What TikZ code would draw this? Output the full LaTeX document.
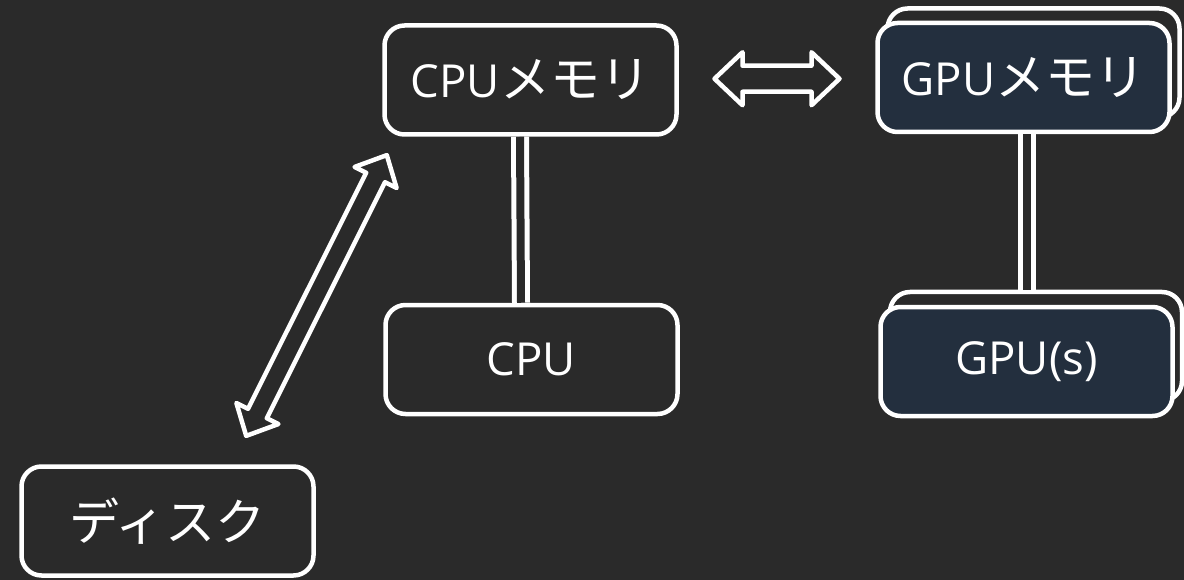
\documentclass[tikz,border=0pt]{standalone}
\usepackage{fontspec}
\setmainfont{Open Sans}
\newfontfamily\jp[Scale=1.1]{Noto Sans CJK JP}
\usetikzlibrary{calc}
\definecolor{bgcol}{HTML}{2A2A2A}
\definecolor{navy}{HTML}{232F3E}
\tikzset{
  box/.style={draw=white, line width=4.5pt, rounded corners=20pt, fill=bgcol,
    minimum width=292pt, minimum height=109pt, inner sep=0pt,
    text=white, font=\fontsize{45.5}{54}\selectfont},
  gpubox/.style={box, fill=navy},
  backbox/.style={box, fill=bgcol},
  link/.style={draw=white, line width=5pt, double=bgcol, double distance=8pt},
  fatarrow/.style={draw=white, fill=bgcol, line width=4.5pt, line join=round},
}
% #1 half length, #2 head length, #3 head half width, #4 shaft half width
\newcommand{\fatarrowpath}[4]{%
  (-#1,0) -- (-#1+#2,-#3) -- (-#1+#2,-#4) -- (#1-#2,-#4) -- (#1-#2,-#3) --
  (#1,0) -- (#1-#2,#3) -- (#1-#2,#4) -- (-#1+#2,#4) -- (-#1+#2,#3) -- cycle}
\begin{document}
\begin{tikzpicture}[x=1pt,y=-1pt]
\fill[bgcol] (0,0) rectangle (1184,580);
\useasboundingbox (0,0) rectangle (1184,580);
% nodes
\node[box] (cpumem) at (530.5,80) {CPU{\jp メモリ}};
\node[box] (cpu) at (531.5,359.5) {CPU};
\node[backbox] (gpumemback) at (1033.5,63) {};
\node[gpubox] (gpumem) at (1023.5,77.5) {GPU{\jp メモリ}};
\node[backbox] (gpuback) at (1036,346.5) {};
\node[gpubox] (gpu) at (1026.5,361.5) {GPU(s)};
\node[box] (disk) at (167.5,521) {\jp ディスク};
% connectors
\draw[link] ([xshift=-10.5pt]cpumem.south) -- ([xshift=-10.5pt]cpu.south |- cpu.north);
\draw[link] ([xshift=3.5pt]gpumem.south) -- ([xshift=3.5pt]gpumem.south |- gpuback.north);
% fat arrows
\coordinate (hmid) at ($(cpumem.east)!0.5!(gpumem.west)$);
\begin{scope}[shift={(hmid)}]
  \draw[fatarrow] \fatarrowpath{62.5}{28}{26.5}{13};
\end{scope}
\coordinate (dmid) at (316.5,295.5);
\begin{scope}[shift={(dmid)}, rotate=63.4]
  \draw[fatarrow] \fatarrowpath{157}{25}{23.5}{10.5};
\end{scope}
\end{tikzpicture}
\end{document}
